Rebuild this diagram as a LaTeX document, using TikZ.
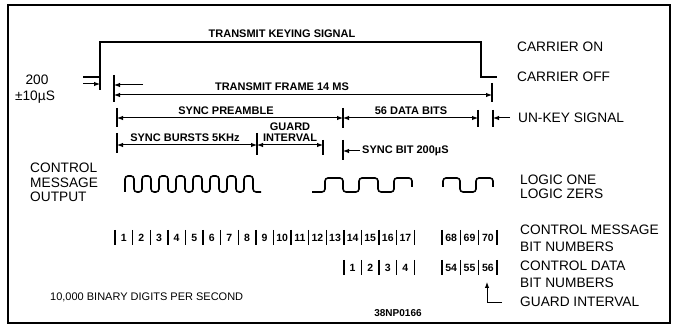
\documentclass[tikz,border=0pt]{standalone}
\usepackage{fontspec}
\setmainfont{Liberation Sans}
\usetikzlibrary{arrows.meta}
\begin{document}
\begin{tikzpicture}[x=1pt,y=-1pt,
  lbl/.style={font=\fontsize{11}{12}\selectfont\bfseries, inner sep=0pt},
  big/.style={font=\fontsize{13.7}{15}\selectfont, inner sep=0pt, anchor=west},
  tickln/.style={line width=1.4pt},
  dimboth/.style={line width=1pt, {Latex[length=6pt,width=4.5pt]}-{Latex[length=6pt,width=4.5pt]}},
  dimone/.style={line width=1pt, -{Latex[length=6pt,width=4.5pt]}},
  num/.style={font=\fontsize{10.5}{11}\selectfont\bfseries, inner sep=0pt},
  wave/.style={line width=1.6pt, rounded corners=3pt, line join=round}
]
\useasboundingbox (0,0) rectangle (673,326);
\draw[line width=1.6pt] (8,5) rectangle (670,323);

% transmit keying signal
\coordinate (k0) at (83,77); \coordinate (k1) at (100,77);
\coordinate (k2) at (100,42); \coordinate (k3) at (481,42);
\coordinate (k4) at (481,77); \coordinate (k5) at (497,77);
\draw[line width=1.5pt] (k0) -- (k1) -- (k2) -- (k3) -- (k4) -- (k5);
\node[lbl] (tks) at (282,34) {TRANSMIT KEYING SIGNAL};
\node[big] (con) at (517,47) {CARRIER ON};
\node[big] (coff) at (517,77) {CARRIER OFF};
\node[big,anchor=center] (t200) at (37,80) {200};
\node[big,anchor=center] (t10) at (35,97) {±10µS};

% 200 us ticks
\coordinate (ta1) at (100,77); \coordinate (ta2) at (100,90);
\coordinate (tb1) at (114,75); \coordinate (tb2) at (114,102);
\draw[tickln] (ta1) -- (ta2);
\draw[tickln] (tb1) -- (tb2);
\coordinate (a1s) at (83,84); \coordinate (a1e) at (100,84);
\coordinate (a2s) at (143,85); \coordinate (a2e) at (114,85);
\draw[dimone] (a1s) -- (a1e);
\draw[dimone] (a2s) -- (a2e);

% transmit frame
\coordinate (tc1) at (492,83); \coordinate (tc2) at (492,102);
\draw[tickln] (tc1) -- (tc2);
\coordinate (f1) at (114,95); \coordinate (f2) at (492,95);
\draw[dimboth] (f1) -- (f2);
\node[lbl] (tf) at (282,87) {TRANSMIT FRAME 14 MS};

% sync preamble / data bits
\coordinate (p1a) at (117,108); \coordinate (p1b) at (117,127);
\coordinate (p2a) at (343,108); \coordinate (p2b) at (343,128);
\coordinate (p3a) at (478,110); \coordinate (p3b) at (478,127);
\draw[tickln] (p1a) -- (p1b);
\draw[tickln] (p2a) -- (p2b);
\draw[tickln] (p3a) -- (p3b);
\coordinate (s1) at (117,118); \coordinate (s2) at (343,118); \coordinate (s3) at (478,118);
\draw[dimboth] (s1) -- (s2);
\draw[dimboth] (s2) -- (s3);
\node[lbl] (sp) at (226,111) {SYNC PREAMBLE};
\node[lbl] (db) at (411,111) {56 DATA BITS};

% un-key
\coordinate (u1) at (493,110); \coordinate (u2) at (493,127);
\draw[tickln] (u1) -- (u2);
\coordinate (us) at (510,118); \coordinate (ue) at (493,118);
\draw[dimone] (us) -- (ue);
\node[big] (uk) at (518,118) {UN-KEY SIGNAL};

% sync bursts / guard
\coordinate (b1a) at (117,133); \coordinate (b1b) at (117,153);
\coordinate (b2a) at (257,133); \coordinate (b2b) at (257,155);
\coordinate (b3a) at (323,140); \coordinate (b3b) at (323,155);
\draw[tickln] (b1a) -- (b1b);
\draw[tickln] (b2a) -- (b2b);
\draw[tickln] (b3a) -- (b3b);
\coordinate (q1) at (117,145); \coordinate (q2) at (257,145); \coordinate (q3) at (323,145);
\draw[dimboth] (q1) -- (q2);
\draw[dimboth] (q2) -- (q3);
\node[lbl] (sb) at (185,138) {SYNC BURSTS 5KHz};
\node[lbl] (gd) at (290,127) {GUARD};
\node[lbl] (iv) at (290,138) {INTERVAL};

% sync bit
\coordinate (y1) at (343,140); \coordinate (y2) at (343,160);
\draw[tickln] (y1) -- (y2);
\coordinate (ys) at (360,151); \coordinate (ye) at (343,151);
\draw[dimone] (ys) -- (ye);
\node[lbl,anchor=west] (sbit) at (362,151) {SYNC BIT 200µS};

% control message output
\node[big] (c1) at (30,168) {CONTROL};
\node[big] (c2) at (30,183) {MESSAGE};
\node[big] (c3) at (30,197) {OUTPUT};

% waves
\draw[wave] (125,192) \foreach \i in {0,...,7} { -- ++(0,-16) -- ++(9,0) -- ++(0,16) -- ++(8,0) };
\draw[wave] (312,192) -- (325,192) -- (325,178) -- (343,178) -- (343,192) -- (359,192) -- (359,178) -- (378,178) -- (378,192) -- (394,192) -- (394,178) -- (412,178) -- (412,187);
\draw[wave] (443,187) -- (443,178) -- (460,178) -- (460,192) -- (476,192) -- (476,178) -- (493,178) -- (493,187);
\node[big] (l1) at (520,180) {LOGIC ONE};
\node[big] (l0) at (520,194) {LOGIC ZERS};

% bit numbers row 1
\foreach \k in {0,...,17} \draw[tickln] ({115+17.6*\k},230) -- ++(0,15);
\foreach \n [count=\k from 0] in {1,...,17} \node[num] (r\n) at ({115+17.6*\k+8.8},237.5) {\n};
\foreach \j in {0,...,3} \draw[tickln] ({442+18.33*\j},230) -- ++(0,15);
\foreach \n [count=\j from 0] in {68,69,70} \node[num] (r\n) at ({442+18.33*\j+9.2},237.5) {\n};
% bit numbers row 2
\foreach \k in {13,...,17} \draw[tickln] ({115+17.6*\k},260) -- ++(0,15);
\foreach \n [count=\k from 13] in {1,...,4} \node[num] (d\n) at ({115+17.6*\k+8.8},267.5) {\n};
\foreach \j in {0,...,3} \draw[tickln] ({442+18.33*\j},260) -- ++(0,15);
\foreach \n [count=\j from 0] in {54,55,56} \node[num] (d\n) at ({442+18.33*\j+9.2},267.5) {\n};

\node[big] (m1) at (520,230) {CONTROL MESSAGE};
\node[big] (m2) at (520,247) {BIT NUMBERS};
\node[big] (m3) at (520,266) {CONTROL DATA};
\node[big] (m4) at (520,283) {BIT NUMBERS};
\node[big] (m5) at (520,302) {GUARD INTERVAL};

% guard interval pointer
\coordinate (g0) at (502,303); \coordinate (g1) at (487,303); \coordinate (g2) at (487,282);
\draw[line width=1pt, -{Latex[length=6pt,width=4.5pt]}] (g0) -- (g1) -- (g2);

\node[font=\fontsize{11}{12}\selectfont, inner sep=0pt, anchor=west] (bd) at (50,297) {10,000 BINARY DIGITS PER SECOND};
\node[font=\fontsize{10}{11}\selectfont\bfseries, inner sep=0pt] (code) at (398,313) {38NP0166};
\end{tikzpicture}
\end{document}
